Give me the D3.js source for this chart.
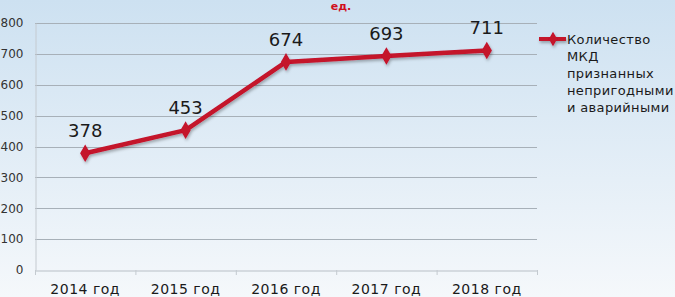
<!DOCTYPE html>
<html><head><meta charset="utf-8">
<script src="https://cdn.jsdelivr.net/npm/d3@7"></script>
<style>html,body{margin:0;padding:0;overflow:hidden;}svg{display:block;}</style>
</head><body>
<svg id="c" width="675" height="297"></svg>
<script>
const categories = ["2014 год","2015 год","2016 год","2017 год","2018 год"];
const values = [378, 453, 674, 693, 711];
const yTicks = [0,100,200,300,400,500,600,700,800];
const seriesName = ["Количество","МКД","признанных","непригодными","и аварийными"];
const titleText = "ед.";

(function(){
const svg = d3.select("#c");
const W = 675, H = 297;
const defs = svg.append("defs");
const bg = defs.append("linearGradient").attr("id","bg").attr("x1",0).attr("y1",0).attr("x2",0).attr("y2",1);
bg.append("stop").attr("offset","0%").attr("stop-color","#cde1f1");
bg.append("stop").attr("offset","100%").attr("stop-color","#f5f8fb");
const f = defs.append("filter").attr("id","sh").attr("x","-20%").attr("y","-20%").attr("width","140%").attr("height","160%");
f.append("feDropShadow").attr("dx",1).attr("dy",2).attr("stdDeviation",1.5).attr("flood-color","#000").attr("flood-opacity",0.3);

svg.append("rect").attr("width",W).attr("height",H).attr("fill","url(#bg)");

const pl = 35, pr = 537, pt = 23, pb = 270;
const x = d3.scaleBand().domain(categories).range([pl,pr]);
const y = d3.scaleLinear().domain([0,800]).range([pb,pt]);

// gridlines
svg.append("g").selectAll("line").data(yTicks.filter(d=>d>0)).join("line")
  .attr("x1",pl).attr("x2",pr).attr("y1",d=>Math.round(y(d))+0.5).attr("y2",d=>Math.round(y(d))+0.5)
  .attr("stroke","#a7b0b8").attr("stroke-width",1);

// y axis
const ya = svg.append("g").attr("transform",`translate(${pl+0.5},0)`)
  .call(d3.axisLeft(y).tickValues(yTicks).tickSize(0).tickPadding(12));
ya.select(".domain").attr("stroke","#c4cad0");
ya.selectAll("text").attr("font-family","DejaVu Sans, Verdana, sans-serif").attr("font-size",12).attr("fill","#333");

// x axis
const xa = svg.append("g").attr("transform",`translate(0,${pb+0.5})`)
  .call(d3.axisBottom(x).tickSizeOuter(0).tickSize(0).tickPadding(14));
xa.select(".domain").attr("stroke","#b8bfc6");
xa.selectAll("text").attr("font-family","DejaVu Sans, Verdana, sans-serif").attr("font-size",14).attr("fill","#1a1a1a").attr("letter-spacing","0.5px");
// band boundary ticks
svg.append("g").selectAll("line").data(d3.range(categories.length+1)).join("line")
  .attr("x1",i=>pl+i*x.bandwidth()+0.5).attr("x2",i=>pl+i*x.bandwidth()+0.5)
  .attr("y1",pb).attr("y2",pb+5).attr("stroke","#c4cad0");

// line
const line = d3.line().x((d,i)=>x(categories[i])+x.bandwidth()/2).y(d=>y(d));
const g = svg.append("g").attr("filter","url(#sh)");
g.append("path").datum(values).attr("d",line).attr("fill","none").attr("stroke","#c4122c").attr("stroke-width",4.5).attr("stroke-linejoin","round");
const diamond = d3.symbol().type(d3.symbolDiamond).size(90);
g.selectAll("path.m").data(values).join("path").attr("class","m")
  .attr("d",diamond).attr("transform",(d,i)=>`translate(${x(categories[i])+x.bandwidth()/2},${y(d)})`)
  .attr("fill","#c4122c");

// data labels
svg.append("g").selectAll("text").data(values).join("text")
  .attr("x",(d,i)=>x(categories[i])+x.bandwidth()/2).attr("y",d=>y(d)-16)
  .attr("text-anchor","middle").attr("font-family","DejaVu Sans, Verdana, sans-serif").attr("font-size",18).attr("fill","#1a1a1a")
  .text(d=>d);

// title
svg.append("text").attr("x",341).attr("y",10).attr("text-anchor","middle")
  .attr("font-family","DejaVu Sans, Verdana, sans-serif").attr("font-weight","bold").attr("font-size",11).attr("fill","#d0101e").text(titleText);

// legend
const lg = svg.append("g").attr("filter","url(#sh)");
lg.append("line").attr("x1",539).attr("x2",566).attr("y1",39).attr("y2",39).attr("stroke","#c4122c").attr("stroke-width",4);
lg.append("path").attr("d",d3.symbol().type(d3.symbolDiamond).size(60)).attr("transform","translate(553,39)").attr("fill","#c4122c");
svg.append("g").selectAll("text").data(seriesName).join("text")
  .attr("x",567).attr("y",(d,i)=>44+i*17)
  .attr("font-family","DejaVu Sans, Verdana, sans-serif").attr("font-size",13).attr("letter-spacing","0.35px").attr("fill","#1a1a1a")
  .text(d=>d);
})();
</script>
</body></html>
